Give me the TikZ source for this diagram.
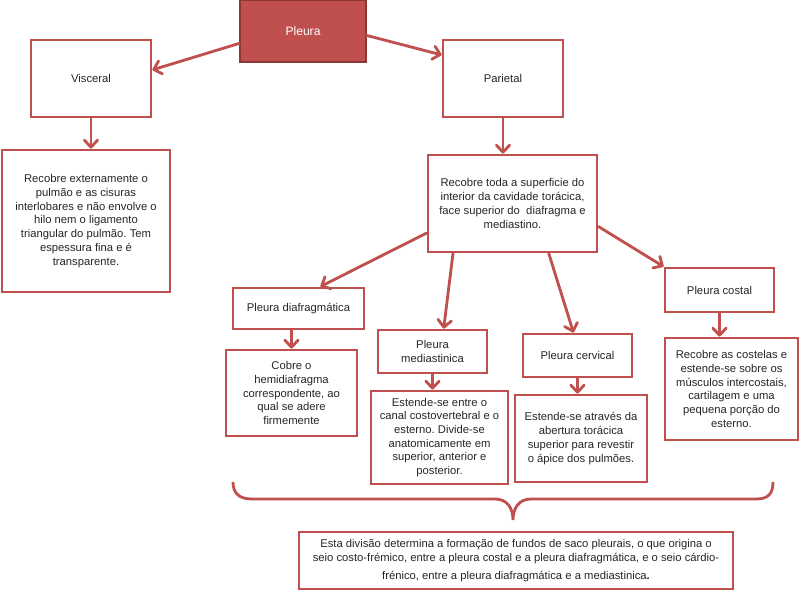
\documentclass[tikz,border=0pt]{standalone}
\usepackage{fontspec}
\setmainfont{Liberation Sans}
\usepackage{xcolor}
\usetikzlibrary{arrows.meta,calc}
\definecolor{pleurared}{RGB}{192,80,77}
\definecolor{pleuradark}{RGB}{140,56,54}
\frenchspacing

\begin{document}
\begin{tikzpicture}[x=0.025cm, y=-0.025cm,
    box/.style={draw=pleurared, line width=2pt, fill=white, align=center,
        inner sep=2pt, text=black!85, font=\fontsize{8}{9.75}\selectfont},
    seta/.style={draw=pleurared, line width=2pt, line cap=round,
        -{Straight Barb[length=5pt,width=9.5pt,round]}}]
    % Page
    \fill[white] (0,0) rectangle (800,591);
    \useasboundingbox (0,0) rectangle (800,591);

    % Top
    \node[box, fill=pleurared, draw=pleuradark, line width=1pt, text=white,
        font=\fontsize{8.6}{10}\selectfont,
        minimum width=3.15cm, minimum height=1.55cm] (pleura) at (303,31) {Pleura};
    \node[box, minimum width=3cm, minimum height=1.925cm] (visceral) at (91,78.5) {Visceral};
    \node[box, minimum width=3cm, minimum height=1.925cm] (parietal) at (503,78.5) {Parietal};

    % Descriptions
    \node[box, minimum width=4.2cm, minimum height=3.55cm] (vdesc) at (86,221)
        {Recobre externamente o\\pulmão e as cisuras\\interlobares e não envolve o\\hilo nem o ligamento\\triangular do pulmão. Tem\\espessura fina e é\\transparente.};
    \node[box, minimum width=4.225cm, minimum height=2.425cm] (pdesc) at (512.5,203.5)
        {Recobre toda a superficie do\\interior da cavidade torácica,\\face superior do\ \ diafragma e\\mediastino.};

    % Parietal parts
    \node[box, minimum width=3.275cm, minimum height=1.025cm] (diaf) at (298.5,308.5) {Pleura diafragmática};
    \node[box, minimum width=2.725cm, minimum height=1.075cm] (medi) at (432.5,351.5) {Pleura\\mediastinica};
    \node[box, minimum width=2.725cm, minimum height=1.075cm] (cerv) at (577.5,355.5) {Pleura cervical};
    \node[box, minimum width=2.725cm, minimum height=1.1cm] (cost) at (719.5,290) {Pleura costal};

    \node[box, minimum width=3.275cm, minimum height=2.15cm] (cobre) at (291.5,393)
        {Cobre o\\hemidiafragma\\correspondente, ao\\qual se adere\\firmemente};
    \node[box, minimum width=3.425cm, minimum height=2.325cm] (estm) at (439.5,437.5)
        {Estende-se entre o\\canal costovertebral e o\\esterno. Divide-se\\anatomicamente em\\superior, anterior e\\posterior.};
    \node[box, minimum width=3.3cm, minimum height=2.175cm] (estc) at (581,438.5)
        {Estende-se através da\\abertura torácica\\superior para revestir\\o ápice dos pulmões.};
    \node[box, minimum width=3.325cm, minimum height=2.55cm] (recc) at (731.5,389)
        {Recobre as costelas e\\estende-se sobre os\\músculos intercostais,\\cartilagem e uma\\pequena porção do\\esterno.};

    % Note
    \node[box, minimum width=10.85cm, minimum height=1.425cm] (nota) at (516,560.5)
        {Esta divisão determina a formação de fundos de saco pleurais, o que origina o\\seio costo-frémico, entre a pleura costal e a pleura diafragmática, e o seio cárdio-\\[3pt]frénico, entre a pleura diafragmática e a mediastinica\textbf{.}};

    % Brace
    \draw[pleurared, line width=2pt] (233,482) .. controls (233,494) and (240,499) .. (252,499)
        -- (495,499) .. controls (507,499) and (513,508) .. (513,520)
        .. controls (513,508) and (519,499) .. (531,499)
        -- (756,499) .. controls (768,499) and (773,494) .. (773,482);

    % Arrows
    \draw[seta] (pleura.191) -- (visceral.8);
    \draw[seta] (pleura.-4) -- (parietal.159);
    \draw[seta] (visceral.south) -- (visceral.south |- vdesc.north);
    \draw[seta] (parietal.south) -- (parietal.south |- pdesc.north);
    \draw[seta] (pdesc.199) -- (diaf.45);
    \draw[seta] (pdesc.220) -- (medi.64);
    \draw[seta] (pdesc.-54) -- (cerv.100);
    \draw[seta] (pdesc.-15) -- (cost.north west);
    \draw[seta] (diaf.south -| cobre.north) -- (cobre.north);
    \draw[seta] (medi.south) -- (medi.south |- estm.north);
    \draw[seta] (cerv.south) -- (cerv.south |- estc.north);
    \draw[seta] (cost.south) -- (cost.south |- recc.north);
\end{tikzpicture}
\end{document}
